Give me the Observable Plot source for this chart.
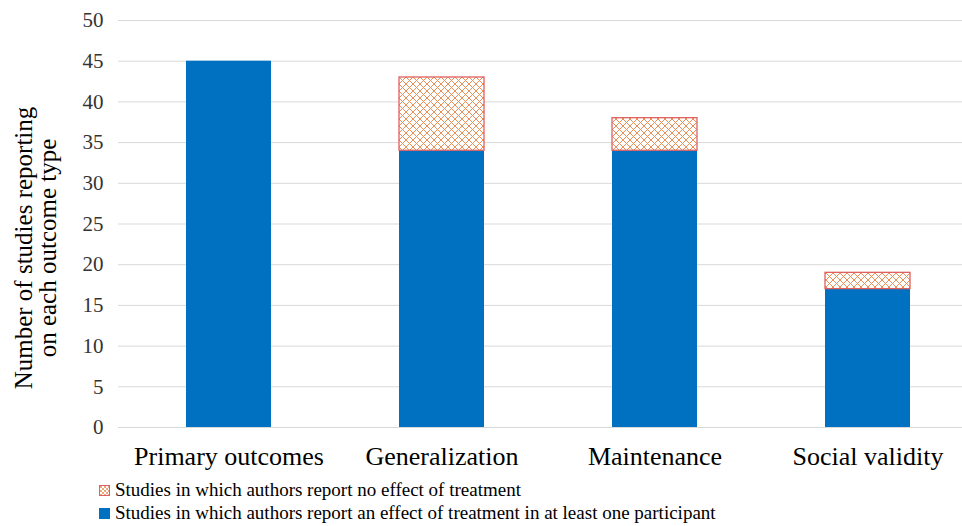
<!DOCTYPE html>
<html>
<head>
<meta charset="utf-8">
<script src="https://cdn.jsdelivr.net/npm/d3@7"></script>
<script src="https://cdn.jsdelivr.net/npm/@observablehq/plot@0.6"></script>
<style>
  html, body { margin: 0; padding: 0; background: #fff; }
  #wrap { width: 962px; font-family: 'Liberation Serif', serif; }
  #wrap span { font-family: 'Liberation Serif', serif; }
  .legend { position: relative; height: 51px; }
  .row { position: absolute; left: 99px; display: flex; align-items: center; font-size: 19px; line-height: 22px; color: #000; white-space: nowrap; }
  .row svg { margin-right: 5px; }
</style>
</head>
<body>
<div id="wrap"></div>
<script>
const categories = ["Primary outcomes", "Generalization", "Maintenance", "Social validity"];
const effectCounts = [45, 34, 34, 17];
const noEffectCounts = [0, 9, 4, 2];
const yTicks = [0, 5, 10, 15, 20, 25, 30, 35, 40, 45, 50];
const seriesLabels = [
  "Studies in which authors report no effect of treatment",
  "Studies in which authors report an effect of treatment in at least one participant"
];
const yLabelLines = ["Number of studies reporting", "on each outcome type"];

const rows = categories.map((c, i) => ({
  category: c,
  effect: effectCounts[i],
  noEffectStart: effectCounts[i],
  noEffectEnd: effectCounts[i] + noEffectCounts[i],
  noEffect: noEffectCounts[i]
}));

const blue = "#0070c0";
const hatchStroke = "#e06060";
const serif = "'Liberation Serif', serif";

const chart = Plot.plot({
  width: 962,
  height: 475,
  marginLeft: 118,
  marginRight: 0,
  marginTop: 20,
  marginBottom: 48,
  style: { fontFamily: serif, background: "#fff" },
  x: { domain: categories, paddingInner: 0.6, paddingOuter: 0.2785, align: 0.568, label: null },
  y: { domain: [0, 50], label: null },
  marks: [
    Plot.gridY(yTicks, { stroke: "#d9d9d9", strokeOpacity: 1, strokeWidth: 1 }),
    Plot.barY(rows, { x: "category", y: "effect", fill: blue, inset: 0 }),
    Plot.barY(rows.filter(d => d.noEffect > 0), {
      x: "category", y1: "noEffectStart", y2: "noEffectEnd",
      fill: "url(#hatch)", stroke: hatchStroke, strokeWidth: 1.3, inset: 0
    }),
    Plot.axisY({ ticks: yTicks, tickSize: 0, tickPadding: 15, fontSize: 21, label: null, color: "#333" }),
    Plot.axisX({ tickSize: 0, tickPadding: 19.5, fontSize: 26, label: null, color: "#000" })
  ]
});

const svg = d3.select(chart);
const defs = svg.insert("defs", ":first-child");
const pat = defs.append("pattern")
  .attr("id", "hatch").attr("patternUnits", "userSpaceOnUse")
  .attr("width", 7).attr("height", 7);
pat.append("rect").attr("width", 7).attr("height", 7).attr("fill", "#fff");
pat.append("path").attr("d", "M0,0L7,7M7,0L0,7").attr("stroke", "#e8905a").attr("stroke-width", 1).attr("fill", "none");

// y-axis title, two lines
const yl = svg.append("text")
  .attr("transform", "translate(0,248) rotate(-90)")
  .attr("text-anchor", "middle")
  .attr("font-size", 25)
  .attr("fill", "#000");
yLabelLines.forEach((t, i) => {
  yl.append("tspan").attr("x", 0).attr("y", i === 0 ? 32 : 56).text(t);
});

const wrap = document.getElementById("wrap");
wrap.appendChild(chart);

const legend = document.createElement("div");
legend.className = "legend";
const swatches = [
  `<svg width="11" height="11"><defs><pattern id="hatchL" patternUnits="userSpaceOnUse" width="4" height="4"><rect width="4" height="4" fill="#fff"/><path d="M0,0L4,4M4,0L0,4" stroke="#e8905a" stroke-width="0.8"/></pattern></defs><rect x="0.5" y="0.5" width="10" height="10" fill="url(#hatchL)" stroke="${hatchStroke}" stroke-width="1"/></svg>`,
  `<svg width="11" height="11"><rect width="11" height="11" fill="${blue}"/></svg>`
];
seriesLabels.forEach((lab, i) => {
  const r = document.createElement("div");
  r.className = "row";
  r.style.top = (i === 0 ? 4 : 27) + "px";
  r.innerHTML = swatches[i] + `<span>${lab}</span>`;
  legend.appendChild(r);
});
wrap.appendChild(legend);
</script>
</body>
</html>
